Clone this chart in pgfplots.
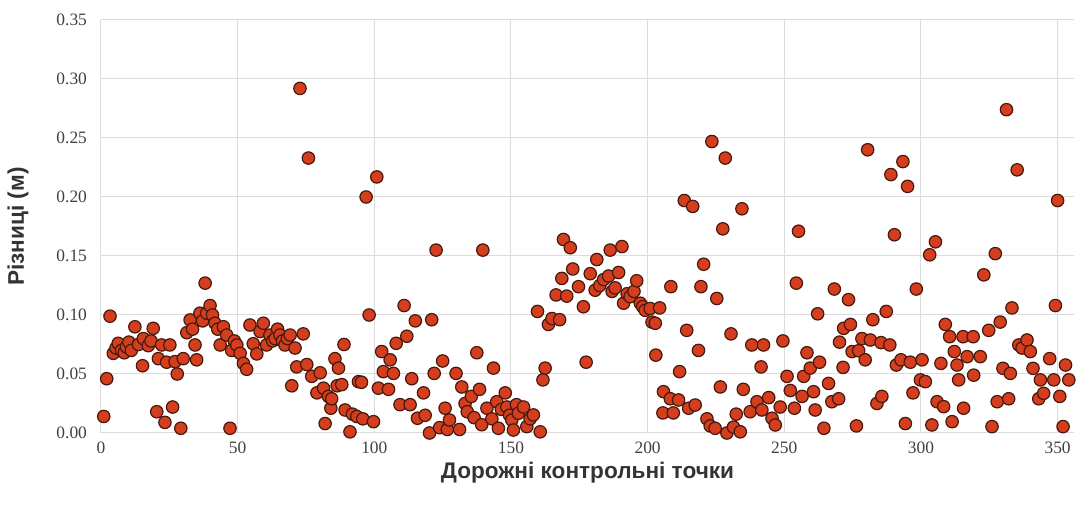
\documentclass[border=0pt]{standalone}
\usepackage{pgfplots}
\pgfplotsset{compat=1.18}
\usepackage{fontspec}
\setmainfont{Liberation Serif}
\newfontfamily\labelfont{Liberation Sans}
\definecolor{dotfill}{RGB}{212,62,30}
\definecolor{dotedge}{RGB}{70,25,12}
\definecolor{gridc}{RGB}{220,220,220}
\begin{document}
\begin{tikzpicture}
\begin{axis}[
  scale only axis, width=486.5pt, height=206.5pt,
  xmin=0, xmax=356, ymin=0, ymax=0.35,
  xtick={0,50,100,150,200,250,300,350},
  ytick={0,0.05,0.10,0.15,0.20,0.25,0.30,0.35},
  grid=major, major grid style={gridc, line width=0.5pt},
  axis line style={draw=none}, major tick length=0pt,
  /pgf/number format/assume math mode=true,
  ticklabel style={font=\fontsize{8.7}{10}\selectfont, text=black!75},
  yticklabel style={/pgf/number format/.cd, fixed, fixed zerofill, precision=2, /tikz/.cd, xshift=-3.5pt},
  xticklabel style={yshift=-1pt},
  every axis y label/.style={at={(axis description cs:-0.0853,0.5)}, rotate=90, anchor=center},
  every axis x label/.style={at={(axis description cs:0.5,-0.097)}, anchor=center},
  xlabel={\labelfont\bfseries\fontsize{11.3}{13}\selectfont Дорожні контрольні точки},
  ylabel={\labelfont\bfseries\fontsize{11.3}{13}\selectfont Різниці (м)},
  label style={text=black!80},
  clip=false,
]
\addplot[only marks, mark=*, mark size=3.1pt, mark options={fill=dotfill, draw=dotedge, line width=0.6pt}] coordinates {
(1,0.014) (2.1,0.046) (3.3,0.099) (4.5,0.0675) (5.5,0.072) (6.3,0.076) (7.5,0.07) (8.5,0.068) (9.3,0.073) (10.2,0.077)
(11.1,0.07) (12.4,0.09) (13.7,0.075) (15.2,0.057) (15.5,0.08) (17.3,0.074) (18.3,0.078) (19.1,0.0887) (20.4,0.018) (21,0.063)
(22.2,0.0746) (23.4,0.009) (24,0.06) (25.2,0.0746) (26.2,0.022) (27.1,0.0605) (27.9,0.05) (29.2,0.004) (30.1,0.063) (31.4,0.085)
(32.6,0.0958) (33.5,0.088) (34.4,0.0746) (35,0.062) (36.2,0.1015) (37.2,0.095) (38.1,0.127) (38.7,0.1015) (39.9,0.108) (40.8,0.1)
(41.7,0.093) (42.7,0.088) (43.6,0.0746) (44.8,0.09) (46,0.083) (47.2,0.004) (47.8,0.07) (48.8,0.078) (49.7,0.0746) (50.9,0.0675)
(52.1,0.059) (53.3,0.054) (54.5,0.0915) (55.7,0.0756) (57,0.067) (58.2,0.086) (59.4,0.093) (60.6,0.0746) (61.8,0.083) (62.8,0.078)
(63.7,0.08) (64.6,0.088) (65.5,0.083) (66.4,0.078) (67.3,0.0746) (68.2,0.08) (69.2,0.083) (69.8,0.04) (71,0.072) (71.6,0.056)
(72.8,0.292) (74,0.084) (75.3,0.058) (75.9,0.233) (77.1,0.048) (79,0.034) (80.2,0.051) (81.4,0.038) (82,0.008) (83.2,0.031)
(84.1,0.021) (84.4,0.029) (85.6,0.063) (86.4,0.04) (86.9,0.055) (88.1,0.041) (88.9,0.075) (89.3,0.0195) (91.1,0.001) (92,0.016)
(93.6,0.014) (94.2,0.0435) (95.3,0.043) (95.8,0.012) (97,0.2) (98.1,0.1) (99.7,0.0096) (100.9,0.217) (101.5,0.038) (102.7,0.069)
(103.3,0.052) (105.2,0.037) (105.8,0.062) (107,0.0505) (108,0.076) (109.4,0.024) (110.9,0.108) (111.9,0.082) (113.1,0.024) (113.7,0.046)
(115,0.095) (115.8,0.0125) (118,0.034) (118.6,0.015) (120.2,0.0) (121,0.096) (121.9,0.0505) (122.6,0.155) (123.9,0.0045) (125,0.061)
(125.9,0.021) (126.7,0.003) (127.5,0.011) (129.9,0.0505) (131.2,0.003) (132,0.039) (133.2,0.025) (134,0.018) (135.5,0.031) (136.5,0.013)
(137.5,0.068) (138.5,0.037) (139.3,0.007) (139.7,0.155) (141.2,0.021) (143,0.012) (143.6,0.055) (144.8,0.0265) (145.4,0.004) (146.5,0.02)
(147.9,0.034) (148.5,0.022) (149.5,0.015) (150.3,0.011) (150.9,0.0025) (152,0.024) (152.7,0.0167) (154.6,0.022) (155.8,0.0054) (157,0.012)
(158.2,0.0153) (159.7,0.103) (160.7,0.001) (161.7,0.045) (162.5,0.055) (163.7,0.092) (165,0.097) (166.5,0.117) (167.8,0.096) (168.6,0.131)
(169.2,0.164) (170.4,0.116) (171.7,0.157) (172.6,0.139) (174.7,0.124) (176.5,0.107) (177.5,0.06) (179,0.135) (180.8,0.121) (181.4,0.147)
(182.5,0.125) (183.9,0.13) (185.7,0.133) (186.3,0.155) (187,0.12) (188.1,0.123) (189.4,0.136) (190.6,0.158) (191.2,0.11) (192.5,0.118)
(193.6,0.1155) (195,0.12) (196,0.129) (197.3,0.11) (198.2,0.107) (199.1,0.104) (200.9,0.1055) (201.6,0.094) (202.8,0.093) (203,0.066)
(204.4,0.106) (205.6,0.017) (205.8,0.035) (208.3,0.029) (208.5,0.124) (209.4,0.017) (211.3,0.028) (211.7,0.052) (213.4,0.197) (214.3,0.087)
(215,0.021) (216.5,0.192) (217.4,0.0237) (218.6,0.07) (219.5,0.124) (220.5,0.143) (221.7,0.012) (222.9,0.006) (223.5,0.247) (224.7,0.004)
(225.3,0.114) (226.6,0.039) (227.5,0.173) (228.4,0.233) (229,0.0) (230.5,0.084) (231.4,0.005) (232.4,0.016) (233.9,0.001) (234.5,0.19)
(235,0.037) (237.5,0.018) (238.1,0.0746) (240,0.0265) (241.5,0.056) (241.8,0.0195) (242.4,0.0746) (244.3,0.030) (245.5,0.0125) (246.7,0.0068)
(248.5,0.022) (249.5,0.078) (251,0.048) (252.2,0.036) (253.7,0.021) (254.4,0.127) (255.2,0.171) (256.5,0.031) (257.1,0.048) (258.3,0.068)
(259.5,0.055) (260.7,0.035) (261.3,0.0195) (262.2,0.101) (262.9,0.06) (264.5,0.004) (266.2,0.042) (267.4,0.0265) (268.3,0.122) (269.9,0.029)
(270.2,0.077) (271.5,0.0556) (271.7,0.0887) (273.5,0.113) (274.2,0.092) (274.8,0.069) (276.4,0.006) (277.2,0.0697) (278.4,0.080) (279.6,0.062)
(280.5,0.24) (281.5,0.0788) (282.4,0.096) (283.9,0.025) (285.4,0.0766) (285.7,0.031) (287.3,0.103) (288.6,0.0746) (289,0.219) (290.3,0.168)
(291,0.0576) (292.7,0.062) (293.4,0.23) (294.3,0.008) (295.1,0.209) (296.1,0.06) (297.1,0.034) (298.3,0.122) (299.8,0.045) (300.4,0.062)
(301.6,0.0435) (303.2,0.151) (304,0.0068) (305.3,0.162) (305.9,0.0265) (307.3,0.059) (308.3,0.0223) (308.9,0.092) (310.5,0.0816) (311.4,0.0096)
(312.2,0.069) (313.2,0.0576) (313.8,0.045) (315.4,0.0816) (315.6,0.021) (316.9,0.0647) (319.1,0.0816) (319.3,0.049) (321.7,0.0647) (323,0.134)
(324.8,0.087) (326,0.0054) (327.2,0.152) (327.9,0.0265) (329,0.094) (330,0.0548) (331.3,0.274) (332.1,0.029) (332.7,0.0505) (333.3,0.106)
(335.2,0.223) (335.8,0.0746) (337,0.072) (338.8,0.0788) (340,0.069) (341,0.0548) (343.1,0.029) (343.7,0.045) (344.9,0.0336) (347.1,0.063)
(348.6,0.045) (349.2,0.108) (350,0.197) (350.8,0.031) (352,0.0054) (352.9,0.0576) (354.1,0.045)
};
\coordinate (ll) at (rel axis cs:0,0);
\coordinate (ur) at (rel axis cs:1,1);
\end{axis}
\pgfresetboundingbox
\path ([xshift=-50.5pt,yshift=-36.5pt]ll) rectangle ([xshift=1pt,yshift=10pt]ur);
\end{tikzpicture}
\end{document}
